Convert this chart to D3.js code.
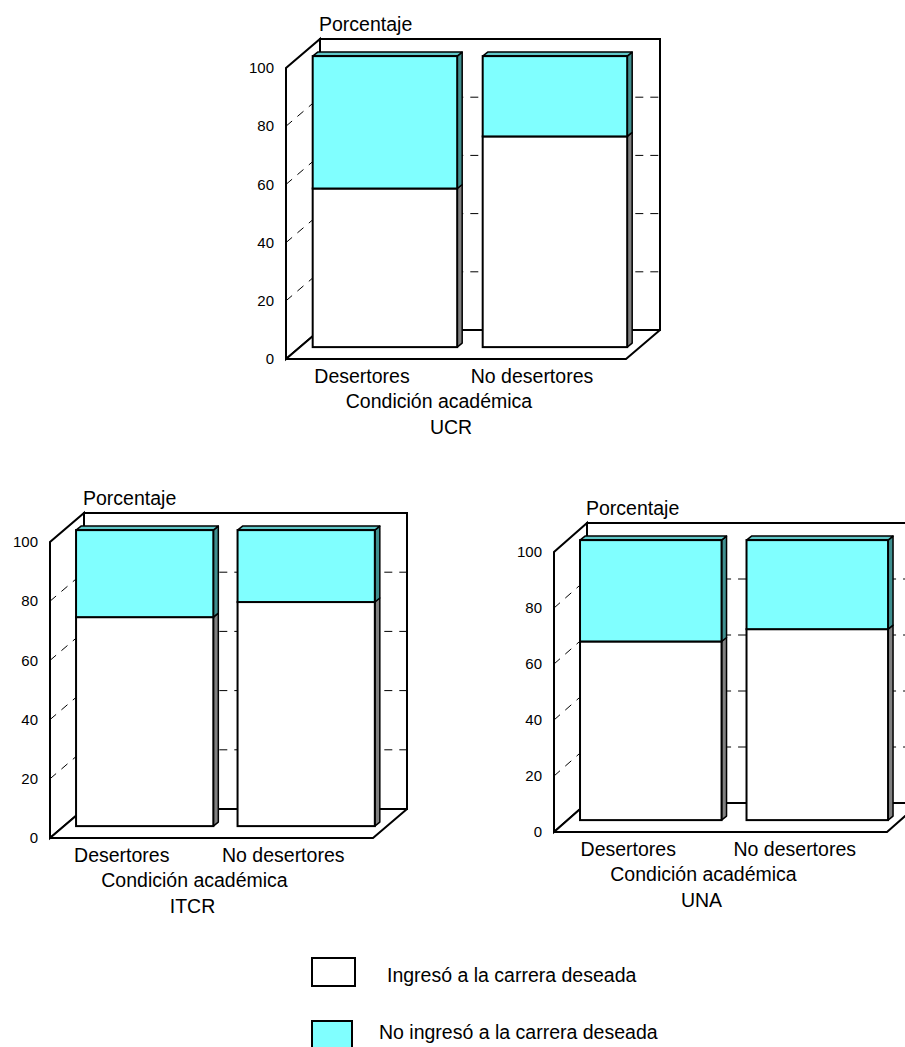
<!DOCTYPE html>
<html><head><meta charset="utf-8">
<script src="https://cdn.jsdelivr.net/npm/d3@7"></script>
<style>body{margin:0;background:#fff}svg{display:block;font-family:"Liberation Sans",Arial,sans-serif}</style>
</head><body><svg id="c" width="905" height="1047"></svg>
<script>
const universities = ["UCR","ITCR","UNA"];
const categories = ["Desertores","No desertores"];
const ingresoDeseada = [[54.5,72.4],[70.6,75.7],[63.8,68.2]];
const noIngresoDeseada = [[45.5,27.6],[29.4,24.3],[36.2,31.8]];
const yTicks = [0,20,40,60,80,100];
const seriesNames = ["Ingresó a la carrera deseada","No ingresó a la carrera deseada"];
const axisTitle = "Porcentaje";
const xTitle = "Condición académica";

const layouts = [
  {x0:286,y0:359,w:340,h:291,dx:34,dy:-29,titleDx:-5},
  {x0:50,y0:838,w:323,h:296,dx:34,dy:-29,titleDx:-19},
  {x0:554,y0:832,w:333,h:280,dx:33,dy:-29,titleDx:-19}
];
const colors = {
  white:{front:"#ffffff",side:"#808080",top:"#c0c0c0"},
  cyan:{front:"#80ffff",side:"#3f8f8f",top:"#5fc8c8"}
};

const svg = d3.select("#c");
const pts = a => a.map(p=>p.join(",")).join(" ");

universities.forEach((u,ui)=>{
  const L = layouts[ui];
  const g = svg.append("g");
  const x = d3.scaleBand().domain(categories).range([L.x0, L.x0+L.w]).paddingInner(0.15).paddingOuter(0.075);
  const y = d3.scaleLinear().domain([0,100]).range([L.y0, L.y0-L.h]);
  const dx=L.dx, dy=L.dy;
  const x0=L.x0, x1=L.x0+L.w;
  // back wall
  g.append("polygon").attr("points",pts([[x0+dx,y(100)+dy],[x1+dx,y(100)+dy],[x1+dx,y(0)+dy],[x0+dx,y(0)+dy]]))
    .attr("fill","#fff").attr("stroke","#000").attr("stroke-width",2);
  // side wall
  g.append("polygon").attr("points",pts([[x0,y(0)],[x0,y(100)],[x0+dx,y(100)+dy],[x0+dx,y(0)+dy]]))
    .attr("fill","#fff").attr("stroke","#000").attr("stroke-width",2);
  // floor
  g.append("polygon").attr("points",pts([[x0,y(0)],[x1,y(0)],[x1+dx,y(0)+dy],[x0+dx,y(0)+dy]]))
    .attr("fill","#fff").attr("stroke","#000").attr("stroke-width",2).attr("stroke-linejoin","round");
  // gridlines
  g.selectAll(".grid").data(yTicks.filter(v=>v>0&&v<100)).enter().append("path")
    .attr("d",v=>`M${x0},${y(v)}L${x0+dx},${y(v)+dy}L${x1+dx},${y(v)+dy}`)
    .attr("fill","none").attr("stroke","#000").attr("stroke-width",1).attr("stroke-dasharray","8,7");
  // tick labels
  g.selectAll(".tick").data(yTicks).enter().append("text")
    .attr("x",x0-12).attr("y",v=>y(v)).attr("dy","0.35em").attr("text-anchor","end")
    .attr("font-size",15).text(d=>d);
  // bars
  const bf=0.41, bx=dx*bf, by=dy*bf, sx=5, sy=-4;
  categories.forEach((c,ci)=>{
    const segs=[{v0:0,v1:ingresoDeseada[ui][ci],col:colors.white},
                {v0:ingresoDeseada[ui][ci],v1:ingresoDeseada[ui][ci]+noIngresoDeseada[ui][ci],col:colors.cyan}];
    const left=x(c)+bx, right=x(c)+x.bandwidth()+bx;
    segs.forEach((s,si)=>{
      const yb=y(s.v0)+by, yt=y(s.v1)+by;
      g.append("polygon").attr("points",pts([[right,yb],[right,yt],[right+sx,yt+sy],[right+sx,yb+sy]]))
        .attr("fill",s.col.side).attr("stroke","#000").attr("stroke-width",1.5).attr("stroke-linejoin","round");
      if(si===segs.length-1){
        g.append("polygon").attr("points",pts([[left,yt],[left+sx,yt+sy],[right+sx,yt+sy],[right,yt]]))
          .attr("fill",s.col.top).attr("stroke","#000").attr("stroke-width",1.5).attr("stroke-linejoin","round");
      }
      g.append("rect").attr("x",left).attr("y",yt).attr("width",right-left).attr("height",yb-yt)
        .attr("fill",s.col.front).attr("stroke","#000").attr("stroke-width",2);
    });
  });
  // category labels
  g.selectAll(".cat").data(categories).enter().append("text")
    .attr("x",c=>x(c)+x.bandwidth()/2-9).attr("y",L.y0+24).attr("text-anchor","middle")
    .attr("font-size",19.5).text(c=>c);
  g.append("text").attr("x",(x0+x1)/2-17).attr("y",L.y0+49).attr("text-anchor","middle")
    .attr("font-size",19.5).text(xTitle);
  g.append("text").attr("x",(x0+x1)/2+L.titleDx).attr("y",L.y0+75).attr("text-anchor","middle")
    .attr("font-size",19.5).text(u);
  g.append("text").attr("x",x0+dx-1).attr("y",y(100)+dy-8)
    .attr("font-size",19.5).text(axisTitle);
});

// legend
const legend = svg.append("g");
const legendBoxes=[{x:312,y:958,w:43,h:28,fill:colors.white.front,tx:387,ty:982},
                   {x:312,y:1021,w:40,h:28,fill:colors.cyan.front,tx:379,ty:1039}];
legend.selectAll("rect").data(seriesNames).enter().append("rect")
  .attr("x",(d,i)=>legendBoxes[i].x).attr("y",(d,i)=>legendBoxes[i].y)
  .attr("width",(d,i)=>legendBoxes[i].w).attr("height",(d,i)=>legendBoxes[i].h)
  .attr("fill",(d,i)=>legendBoxes[i].fill).attr("stroke","#000").attr("stroke-width",2);
legend.selectAll("text").data(seriesNames).enter().append("text")
  .attr("x",(d,i)=>legendBoxes[i].tx).attr("y",(d,i)=>legendBoxes[i].ty)
  .attr("font-size",19.5).text(d=>d);
</script></body></html>
